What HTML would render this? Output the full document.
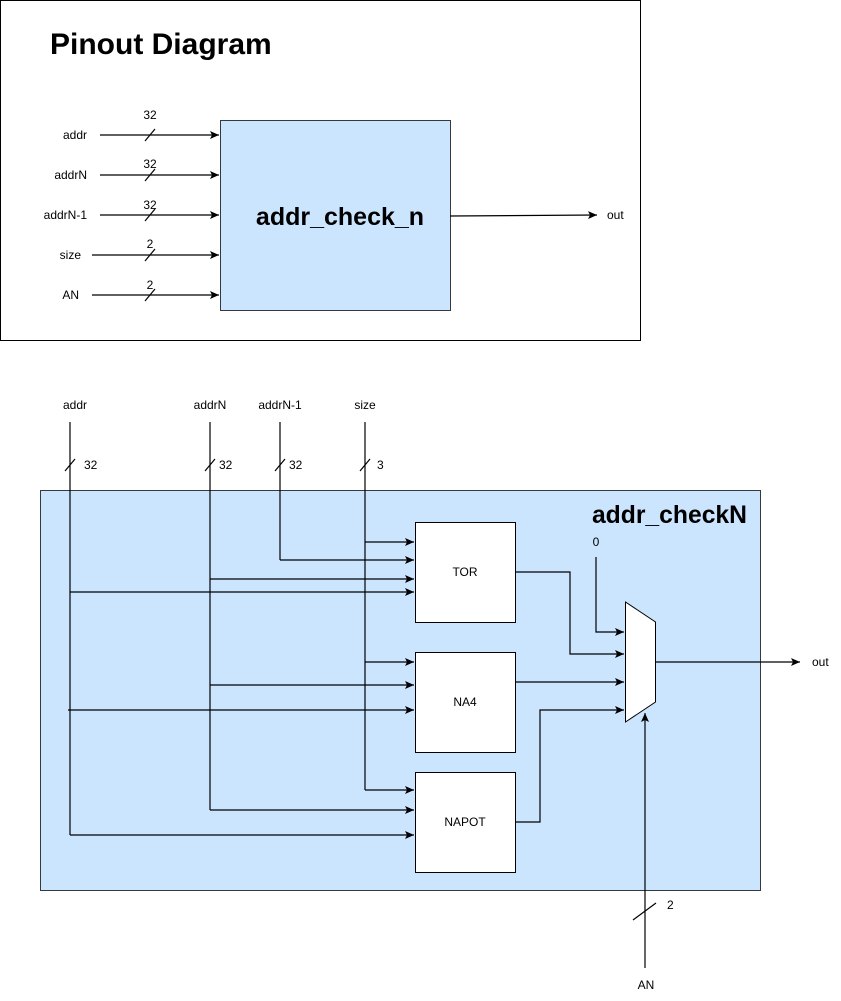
<!DOCTYPE html>
<html><head><meta charset="utf-8"><style>
html,body{margin:0;padding:0;background:#fff;}
svg{display:block;font-family:"Liberation Sans",Arial,sans-serif;}
text{fill:#000;}
</style></head><body>
<svg width="841" height="1001" viewBox="0 0 841 1001">
<defs>
<marker id="ar" markerWidth="10" markerHeight="8" refX="9" refY="4" orient="auto" markerUnits="userSpaceOnUse">
<path d="M0,0 L9,4 L0,8 L2,4 Z" fill="#000"/>
</marker>
</defs>
<g>
<rect x="0.5" y="0.5" width="640" height="340" fill="#fff" stroke="#000"/>
<text x="50" y="54" font-size="30" font-weight="bold">Pinout Diagram</text>
<rect x="220.5" y="120.5" width="230" height="190" fill="#cce5ff" stroke="#36393d"/>
<text x="340" y="225" font-size="25" font-weight="bold" text-anchor="middle">addr_check_n</text>
<g stroke="#000" stroke-width="1.2" fill="none">
<line x1="100" y1="135" x2="219" y2="135" marker-end="url(#ar)"/>
<line x1="100" y1="175" x2="219" y2="175" marker-end="url(#ar)"/>
<line x1="100" y1="215" x2="219" y2="215" marker-end="url(#ar)"/>
<line x1="92" y1="255" x2="219" y2="255" marker-end="url(#ar)"/>
<line x1="92" y1="295" x2="219" y2="295" marker-end="url(#ar)"/>
<line x1="145" y1="141" x2="155" y2="129"/>
<line x1="145" y1="181" x2="155" y2="169"/>
<line x1="145" y1="221" x2="155" y2="209"/>
<line x1="145" y1="261" x2="155" y2="249"/>
<line x1="145" y1="301" x2="155" y2="289"/>
<line x1="450" y1="216" x2="597" y2="215" marker-end="url(#ar)"/>
</g>
<g font-size="12">
<text x="87" y="139" text-anchor="end">addr</text>
<text x="87" y="179" text-anchor="end">addrN</text>
<text x="87" y="219" text-anchor="end">addrN-1</text>
<text x="81" y="259" text-anchor="end">size</text>
<text x="79" y="299" text-anchor="end">AN</text>
<text x="150" y="119" text-anchor="middle">32</text>
<text x="150" y="168" text-anchor="middle">32</text>
<text x="150" y="209" text-anchor="middle">32</text>
<text x="150" y="248" text-anchor="middle">2</text>
<text x="150" y="289" text-anchor="middle">2</text>
<text x="607" y="219">out</text>
</g>
</g>
<g>
<rect x="40.5" y="490.5" width="720" height="400" fill="#cce5ff" stroke="#36393d"/>
<text x="747" y="523" font-size="24.7" font-weight="bold" text-anchor="end">addr_checkN</text>
<g font-size="12">
<text x="75" y="409" text-anchor="middle">addr</text>
<text x="210" y="409" text-anchor="middle">addrN</text>
<text x="280" y="409" text-anchor="middle">addrN-1</text>
<text x="365" y="409" text-anchor="middle">size</text>
<text x="84" y="469">32</text>
<text x="219" y="469">32</text>
<text x="289" y="469">32</text>
<text x="377" y="469">3</text>
<text x="596" y="546" text-anchor="middle">0</text>
<text x="812" y="666">out</text>
<text x="667" y="909">2</text>
<text x="646" y="989" text-anchor="middle">AN</text>
</g>
<g stroke="#000" stroke-width="1.2" fill="none">
<line x1="70" y1="422" x2="70" y2="835"/>
<line x1="210" y1="422" x2="210" y2="810"/>
<line x1="280" y1="422" x2="280" y2="560"/>
<line x1="365" y1="422" x2="365" y2="790"/>
<line x1="65" y1="471" x2="75" y2="459"/>
<line x1="205" y1="471" x2="215" y2="459"/>
<line x1="275" y1="471" x2="285" y2="459"/>
<line x1="360" y1="471" x2="370" y2="459"/>
<line x1="365" y1="542" x2="414" y2="542" marker-end="url(#ar)"/>
<line x1="280" y1="560" x2="414" y2="560" marker-end="url(#ar)"/>
<line x1="210" y1="579" x2="414" y2="579" marker-end="url(#ar)"/>
<line x1="70" y1="592" x2="414" y2="592" marker-end="url(#ar)"/>
<line x1="365" y1="662" x2="414" y2="662" marker-end="url(#ar)"/>
<line x1="210" y1="685" x2="414" y2="685" marker-end="url(#ar)"/>
<line x1="68" y1="710" x2="414" y2="710" marker-end="url(#ar)"/>
<line x1="365" y1="790" x2="414" y2="790" marker-end="url(#ar)"/>
<line x1="210" y1="810" x2="414" y2="810" marker-end="url(#ar)"/>
<line x1="70" y1="835" x2="414" y2="835" marker-end="url(#ar)"/>
<polyline points="515,572 570,572 570,654 624,654" marker-end="url(#ar)"/>
<line x1="515" y1="682" x2="624" y2="682" marker-end="url(#ar)"/>
<polyline points="515,822 540,822 540,710 624,710" marker-end="url(#ar)"/>
<polyline points="596,557 596,632 624,632" marker-end="url(#ar)"/>
<line x1="655" y1="662" x2="800" y2="662" marker-end="url(#ar)"/>
<line x1="645" y1="968" x2="645" y2="713" marker-end="url(#ar)"/>
<line x1="633" y1="920" x2="656" y2="903"/>
</g>
<rect x="415.5" y="522.5" width="100" height="100" fill="#fff" stroke="#000"/>
<text x="465" y="576" font-size="12" text-anchor="middle">TOR</text>
<rect x="415.5" y="652.5" width="100" height="100" fill="#fff" stroke="#000"/>
<text x="465" y="706" font-size="12" text-anchor="middle">NA4</text>
<rect x="415.5" y="772.5" width="100" height="100" fill="#fff" stroke="#000"/>
<text x="465" y="826" font-size="12" text-anchor="middle">NAPOT</text>
<polygon points="625.5,602 655.5,622 655.5,702 625.5,722" fill="#fff" stroke="#000"/>
</g>
</svg>
</body></html>
